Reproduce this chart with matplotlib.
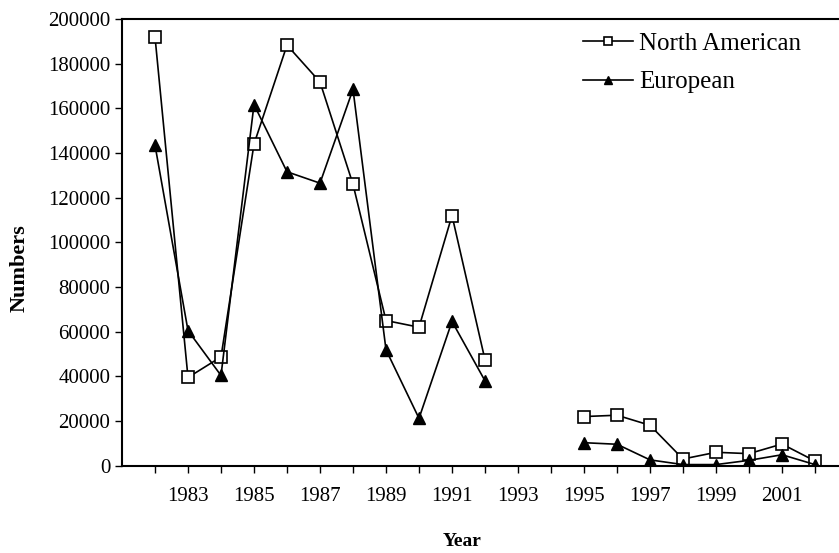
import matplotlib
matplotlib.use("Agg")
import matplotlib.pyplot as plt
import numpy as np

plt.rcParams['font.family'] = ['Liberation Serif', 'DejaVu Serif']

# data (1993 and 1994 missing)
years = list(range(1982, 2003))
north_american = [192000, 39500, 48700, 144000, 188300, 171800, 126000, 65000, 62000,
                  112000, 47400, np.nan, np.nan, 22000, 22600, 18100, 3000, 6000, 5400,
                  9700, 2100]
european = [143500, 60500, 40400, 161700, 131600, 126500, 168500, 51900, 21200,
            64600, 38000, np.nan, np.nan, 10300, 9600, 2600, 500, 500, 2400,
            4900, 500]
tick_years = list(range(1982, 2004))
tick_labels = [str(y) if y % 2 == 1 and y < 2003 else "" for y in tick_years]

fig = plt.figure(figsize=(8.39, 5.53), dpi=100)
ax = fig.add_axes([122 / 839, 1 - 465.7 / 553, 742.5 / 839, 446.7 / 553])

ax.plot(years, north_american, color='black', lw=1.2, marker='s', ms=8,
        mfc='white', mec='black', mew=1.2, label='North American')
ax.plot(years, european, color='black', lw=1.2, marker='^', ms=8.5,
        mfc='black', mec='black', label='European')

ax.set_xlim(1981, 2003.5)
ax.set_ylim(0, 200000)
ax.set_yticks(np.arange(0, 200001, 20000))
ax.set_xticks(tick_years)
ax.set_xticklabels(tick_labels)
ax.tick_params(axis='both', direction='out', length=5, width=1, labelsize=15)
ax.tick_params(axis='x', pad=10)

ax.spines['right'].set_visible(False)
for s in ['left', 'bottom', 'top']:
    ax.spines[s].set_linewidth(1.5)

fig.text(20 / 839, 1 - 268 / 553, 'Numbers', rotation=90, fontsize=16,
         fontweight='bold', ha='center', va='center')
fig.text(462 / 839, 1 - 542 / 553, 'Year', fontsize=14, fontweight='bold',
         ha='center', va='center')

ax.legend(loc='upper left', bbox_to_anchor=(583 / 839, 1 - 32 / 553),
          bbox_transform=fig.transFigure, frameon=False, fontsize=18,
          handlelength=2.0, handletextpad=0.25, labelspacing=0.65,
          borderaxespad=0, borderpad=0, markerscale=0.7)

fig.savefig('out.png', dpi=100)
